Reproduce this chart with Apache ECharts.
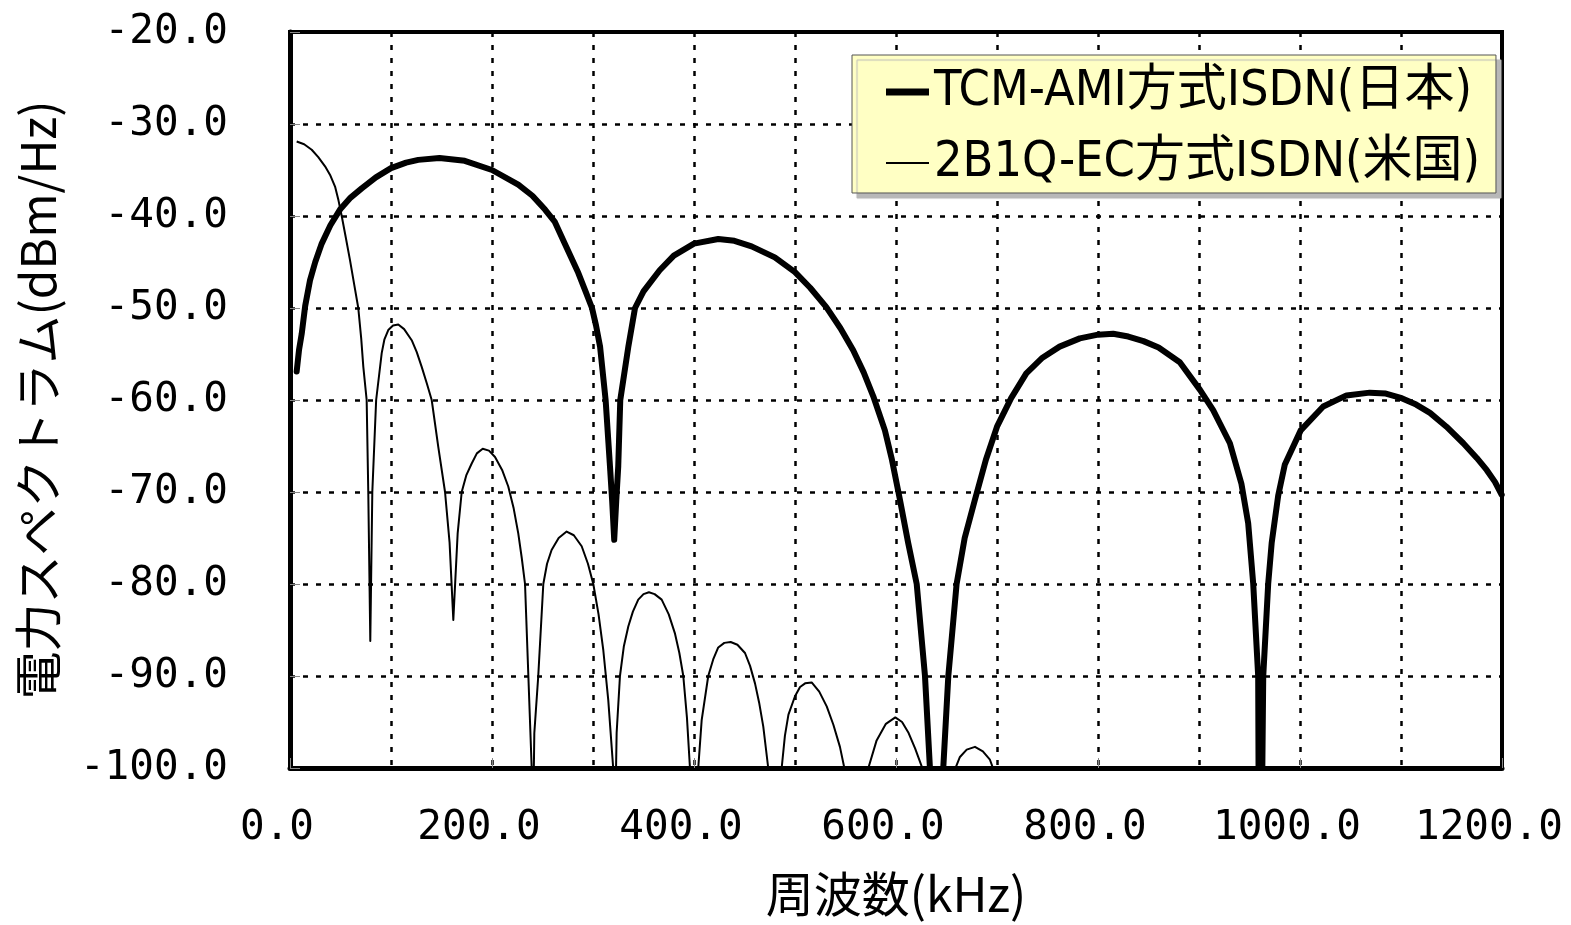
<!DOCTYPE html>
<html>
<head>
<meta charset="utf-8">
<script src="https://cdn.jsdelivr.net/npm/echarts@6/dist/echarts.min.js"></script>
<style>
    html, body { margin: 0; padding: 0; background: #fff; }
    #chart { width: 1571px; height: 925px; }
</style>
</head>
<body>
<div id="chart"></div>
<script type="text/javascript">

    // TCM-AMI方式ISDN(日本) 周波数(kHz) / 電力(dBm/Hz)
    var jpFreq = [6.6, 9, 11.6, 15, 19.8, 25, 31.4, 40, 49.5, 60, 71, 85, 100, 115, 127, 148, 173, 200, 226, 240,
        252.5, 262, 272, 285.5, 293, 299, 303, 307, 312.5, 316.8, 319, 321, 323, 325, 327, 335, 341.6, 350, 366, 380,
        400, 424, 440, 457, 480, 500, 515, 531, 545, 557.6, 568, 577.5, 589, 596, 604, 612, 620.5, 628.7, 633.6,
        640, 646.8, 651.8, 660, 668, 678, 689, 700, 714, 729, 745, 762, 782, 800, 815, 830, 845, 860, 881, 901,
        914, 930.6, 942, 948.7, 953.7, 958.6, 960, 963.6, 968.5, 972, 978.4, 985, 1000.7, 1023, 1046, 1069, 1085,
        1100.7, 1115, 1128.7, 1145, 1161.7, 1175, 1184.8, 1193, 1199.7];
    var jpLevel = [-56.9, -54.5, -52.8, -49.8, -47.0, -45.0, -43.0, -41.0, -39.3, -38.0, -37.0, -35.8, -34.8, -34.2, -33.9, -33.7, -34.0, -35.0, -36.6, -37.8,
        -39.3, -40.6, -43.0, -46.2, -48.3, -50.0, -51.9, -54.2, -60.0, -67.2, -71.0, -75.2, -71.0, -67.2, -60.0, -54.2, -50.0, -48.2, -45.9, -44.3,
        -43.0, -42.5, -42.7, -43.3, -44.5, -46.1, -47.8, -49.9, -52.2, -54.6, -57.0, -59.6, -63.3, -66.5, -70.9, -75.5, -80.0, -90.0, -100.0,
        -116.0, -100.0, -90.0, -80.0, -75.0, -70.9, -66.5, -62.9, -59.8, -57.1, -55.4, -54.2, -53.3, -52.9, -52.8, -53.1, -53.6, -54.3, -55.9, -58.9,
        -61.1, -64.7, -69.1, -73.4, -80.0, -90.0, -130.0, -90.0, -80.0, -75.5, -70.4, -67.0, -63.3, -60.7, -59.5, -59.2, -59.3,
        -59.8, -60.5, -61.4, -62.9, -64.7, -66.3, -67.6, -68.9, -70.3];

    // 2B1Q-EC方式ISDN(米国)
    var usFreq = [6.6, 14, 21.5, 28, 34.7, 40, 44.6, 48, 51.2, 55, 59.4, 63.5, 67.6, 70.5, 72.6, 75.9, 77.5, 79.5, 81.5, 85.3,
        88, 90.8, 93.5, 97.3, 102, 107.2, 113, 120.5, 125.5, 130.4, 135.5, 140.3, 146.8, 153.5, 158, 161.7, 166, 170, 174.5, 179.9,
        185, 190.8, 197, 203, 210, 216.1, 221.5, 226, 229.5, 232.7, 236, 239.3, 240, 241.9, 245.8, 250.8, 254.5, 259, 266, 273.9,
        281, 288.8, 295, 300.3, 305.5, 310.2, 315.1, 320, 321, 323.4, 326.7, 330.5, 335, 339.5, 344.8, 350, 355.4, 361, 368, 375,
        381.2, 385.5, 389.4, 393, 396, 400, 404.2, 407.6, 414.1, 419, 424, 430, 436.3, 443, 450.5, 455.5, 460.4, 464.5, 468.6, 473.5,
        480, 486.8, 490, 493.5, 500, 505, 510, 516.5, 524, 531.4, 538, 544.5, 550, 560, 571, 580.8, 590, 599.3, 606, 612.5,
        619, 625.7, 640, 656.7, 663.3, 670, 678.2, 686, 693, 698, 720, 745, 757, 769, 790];
    var usLevel = [-31.9, -32.2, -32.8, -33.6, -34.6, -35.6, -36.8, -38.3, -40.0, -42.2, -44.8, -47.4, -50.0, -53.3, -56.4, -60.0, -70.0, -86.2, -70.0, -60.0,
        -57.5, -54.9, -53.4, -52.4, -51.9, -51.8, -52.3, -53.5, -54.8, -56.4, -58.2, -60.0, -65.1, -70.0, -75.5, -83.9, -74.5, -70.0, -68.2, -66.9,
        -65.8, -65.3, -65.5, -66.2, -67.6, -69.4, -71.8, -74.5, -77.2, -80.0, -90.0, -100.0, -112.0, -96.2, -90.0, -80.0, -77.8, -76.3, -75.0, -74.3,
        -74.7, -75.9, -77.8, -80.0, -83.3, -87.2, -92.6, -100.0, -112.0, -96.2, -90.0, -86.8, -84.6, -83.0, -81.7, -81.1, -80.9, -81.1, -81.7, -83.3,
        -85.4, -87.5, -90.0, -94.5, -100.0, -112.0, -100.0, -94.8, -90.0, -88.2, -86.9, -86.4, -86.3, -86.6, -87.5, -88.9, -90.8, -92.9, -95.5, -100.0,
        -112.0, -100.0, -96.5, -94.2, -92.2, -91.2, -90.8, -90.7, -91.7, -93.3, -95.3, -97.7, -100.6, -112.0, -100.6, -97.0, -95.2, -94.5, -95.0, -96.2,
        -97.9, -99.9, -112.0, -100.6, -98.8, -98.0, -97.7, -98.2, -99.1, -100.6, -112.0, -101.5, -100.6, -101.5, -112.0];

    var seriesNames = ['TCM-AMI方式ISDN(日本)', '2B1Q-EC方式ISDN(米国)'];

    function pairs(xs, ys) {
        var out = [];
        for (var i = 0; i < xs.length; i++) {
            out.push([xs[i], ys[i]]);
        }
        return out;
    }

    var gridDots = { color: '#000', width: 2.5, type: [5, 8] };
    var legendFont = {
        color: '#000',
        fontSize: 50,
        fontFamily: "'Liberation Sans Narrow', 'Arial Narrow', 'DejaVu Sans Condensed', 'Noto Sans CJK JP', sans-serif"
    };

    var chart = echarts.init(document.getElementById('chart'));

    var option = {
        backgroundColor: '#fff',
        animation: false,
        grid: {
            left: 290,
            top: 32,
            right: 69,
            bottom: 157,
            show: true,
            borderColor: '#000',
            borderWidth: 4
        },
        legend: [
            {
                // 凡例の枠 + 1行目
                orient: 'vertical',
                left: 852,
                top: 55,
                z: 5,
                padding: [12, 24, 76, 34],
                itemWidth: 43,
                itemHeight: 7,
                icon: 'rect',
                backgroundColor: '#ffffc4',
                borderColor: '#555',
                borderWidth: 1,
                shadowColor: '#b8b8b8',
                shadowBlur: 1,
                shadowOffsetX: 5,
                shadowOffsetY: 5,
                selectedMode: false,
                data: [seriesNames[0]],
                textStyle: legendFont
            },
            {
                // 2行目
                orient: 'vertical',
                left: 852,
                top: 138,
                z: 6,
                padding: [0, 0, 0, 34],
                itemWidth: 43,
                itemHeight: 2,
                icon: 'rect',
                selectedMode: false,
                data: [seriesNames[1]],
                textStyle: legendFont
            }
        ],
        xAxis: {
            type: 'value',
            min: 0,
            max: 1200,
            interval: 200,
            name: '周波数(kHz)',
            nameLocation: 'middle',
            nameGap: 102,
            nameTextStyle: {
                color: '#000',
                fontSize: 48,
                fontFamily: "'Liberation Sans Narrow', 'Noto Sans CJK JP', sans-serif"
            },
            axisLine: { show: true, lineStyle: { color: '#000', width: 5 } },
            axisTick: { show: true, inside: true, length: 10, lineStyle: { color: '#888', width: 1 } },
            minorTick: { show: false, splitNumber: 2 },
            axisLabel: {
                color: '#000',
                fontSize: 41,
                fontFamily: "'DejaVu Sans Mono', monospace",
                margin: 40,
                padding: [0, 26, 0, 0],
                formatter: function (v) { return v.toFixed(1); }
            },
            splitLine: { show: true, lineStyle: gridDots },
            minorSplitLine: { show: true, lineStyle: gridDots }
        },
        yAxis: {
            type: 'value',
            min: -100,
            max: -20,
            interval: 10,
            name: '電力スペクトラム(dBm/Hz)',
            nameLocation: 'middle',
            nameGap: 228,
            nameRotate: 90,
            nameTextStyle: {
                color: '#000',
                fontSize: 48,
                fontFamily: "'Noto Sans CJK JP', sans-serif"
            },
            axisLine: { show: true, lineStyle: { color: '#000', width: 5 } },
            axisTick: { show: true, inside: true, length: 10, lineStyle: { color: '#888', width: 1 } },
            axisLabel: {
                color: '#000',
                fontSize: 41,
                fontFamily: "'DejaVu Sans Mono', monospace",
                margin: 62,
                formatter: function (v) { return v.toFixed(1); }
            },
            splitLine: { show: true, lineStyle: gridDots }
        },
        series: [
            {
                name: seriesNames[0],
                type: 'line',
                symbol: 'none',
                clip: true,
                z: 3,
                lineStyle: { color: '#000', width: 6, cap: 'round', join: 'round' },
                itemStyle: { color: '#000' },
                data: pairs(jpFreq, jpLevel)
            },
            {
                name: seriesNames[1],
                type: 'line',
                symbol: 'none',
                clip: true,
                z: 2,
                lineStyle: { color: '#000', width: 2, join: 'round' },
                itemStyle: { color: '#000' },
                data: pairs(usFreq, usLevel)
            }
        ]
    };

    chart.setOption(option);

</script>
</body>
</html>
